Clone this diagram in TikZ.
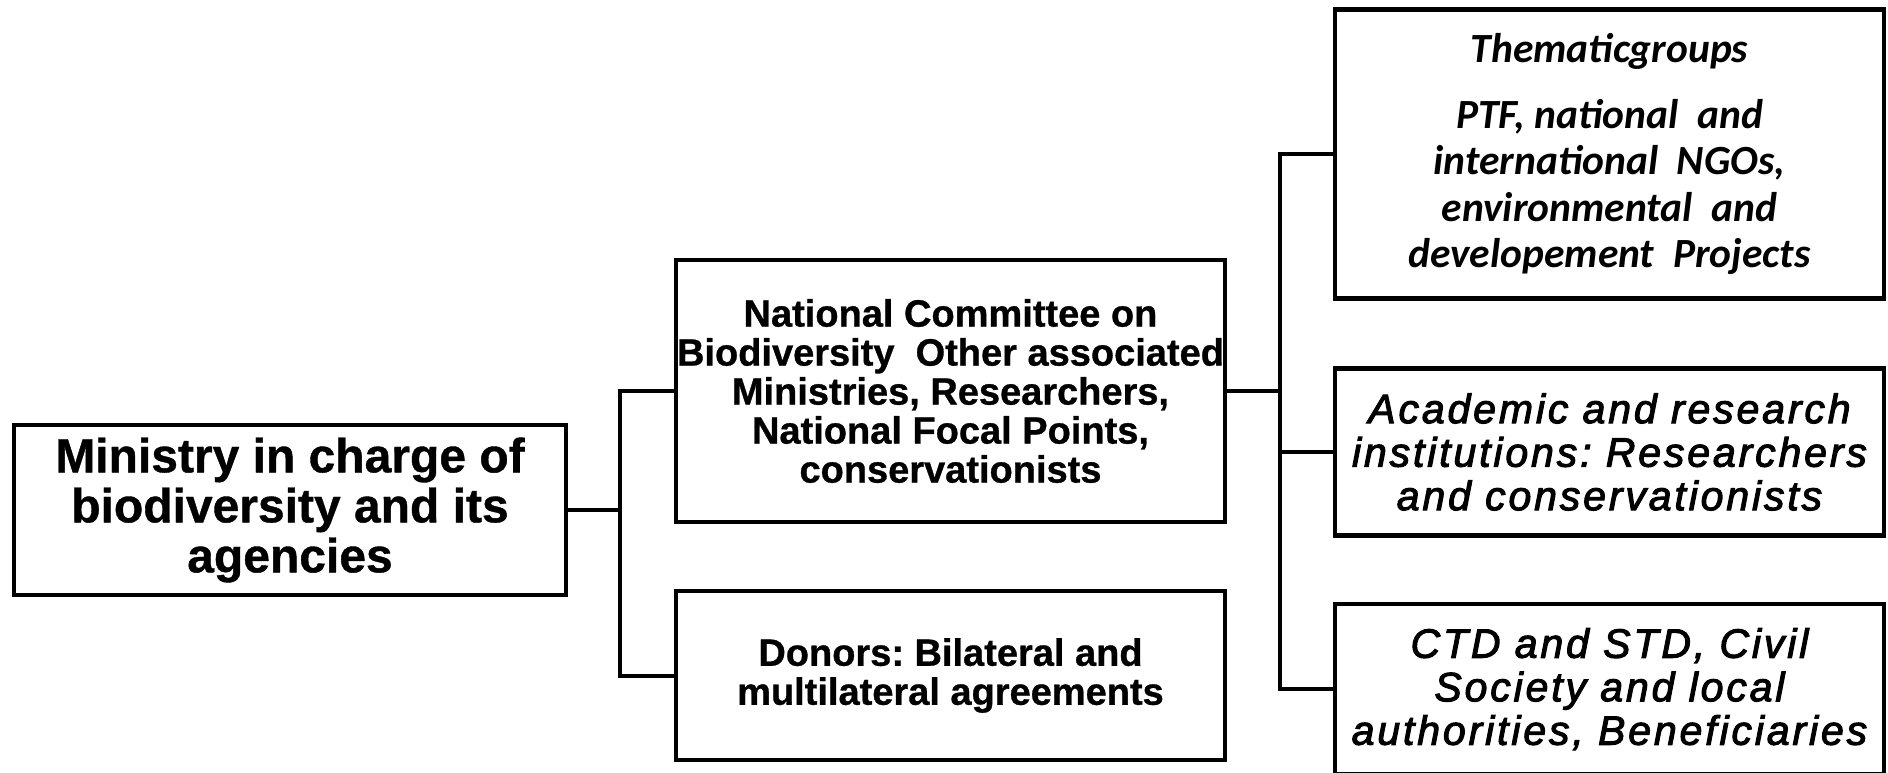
\documentclass[tikz,border=0pt]{standalone}
\usepackage{fontspec}
\setmainfont[BoldFeatures={FakeBold=0.8}]{Liberation Sans}
\newfontfamily\calibfont{Carlito}
\newfontfamily\spacedfont[LetterSpace=7, FakeBold=2.5]{Liberation Sans}
\usepackage{tikz}
\usetikzlibrary{positioning}
\frenchspacing

\tikzset{
  box/.style={draw, line width=4.5pt, align=center, inner sep=0pt, minimum width=549pt},
  link/.style={line width=4pt},
  heavy/.style={font=\bfseries\fontsize{38}{39}\selectfont},
  slant/.style={font=\spacedfont\itshape\fontsize{41}{43.5}\selectfont}
}

\begin{document}
\begin{tikzpicture}[x=1pt,y=-1pt]

  \useasboundingbox (0,0) rectangle (1888,772);
  \clip (0,0) rectangle (1888,772);

  \coordinate (m) at (290, 510);
  \coordinate (nc) at (950.5, 391);
  \coordinate (dn) at (950.5, 675.5);
  \coordinate (tg) at (1609.5, 154);
  \coordinate (ar) at (1609.5, 452);
  \coordinate (cs) at (1609.5, 689);

  \node[box, minimum width=552pt, minimum height=170pt,
        font=\bfseries\fontsize{48}{50}\selectfont] (ministry) at (m)
    {Ministry in charge of\\ biodiversity and its\\ agencies};

  \node[box, heavy, minimum height=262pt] (committee) at (nc)
    {National Committee on\\ Biodiversity~~Other associated\\ Ministries, Researchers,\\
     National Focal Points,\\ conservationists};
  \node[box, heavy, minimum height=169pt] (donors) at (dn)
    {Donors: Bilateral and\\ multilateral agreements};

  \node[box, minimum height=289pt, font=\calibfont\bfseries\itshape\fontsize{41.5}{46.5}\selectfont] (thematic) at (tg)
    {Thematicgroups\\[19pt] PTF, national~~and\\ international~~NGOs,\\
     environmental~~and\\ developement~~Projects};
  \node[box, slant, minimum height=167pt] (academic) at (ar)
    {Academic and research\\ institutions: Researchers\\ and conservationists};
  \node[box, slant, minimum height=170pt] (civil) at (cs)
    {CTD and STD, Civil\\ Society and local\\ authorities, Beneficiaries};

  \coordinate (j1) at (620, 510);
  \coordinate (j2) at (1280, 391);

  \draw[link] (ministry.east) -- (j1);
  \draw[link] (committee.west) -| (j1) |- (donors.west);

  \draw[link] (committee.east) -- (j2);
  \draw[link] (thematic.west) -| (j2) |- (civil.west);
  \draw[link] (j2 |- academic.west) -- (academic.west); % middle branch

\end{tikzpicture}
\end{document}
